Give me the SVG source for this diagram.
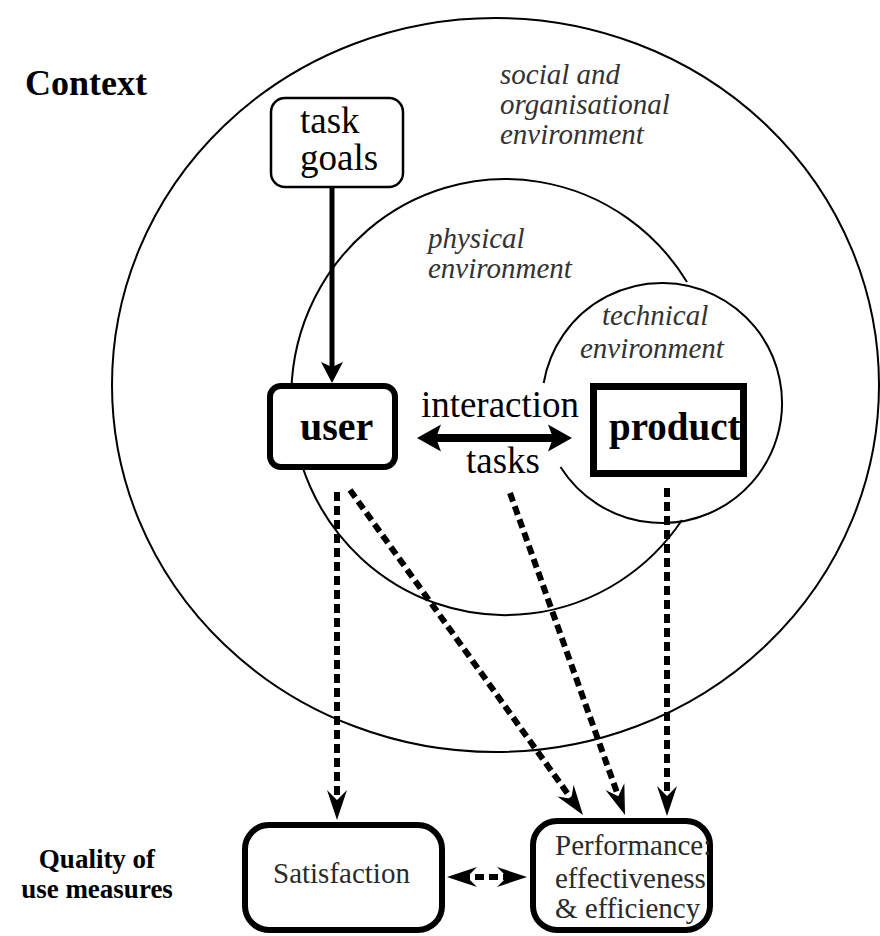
<svg xmlns="http://www.w3.org/2000/svg" width="880" height="936" viewBox="0 0 880 936">
  <style>
    .ring { fill: none; stroke: #000; stroke-width: 2; }
    .env { font-family: "Liberation Serif", "Times New Roman", serif; font-style: italic; font-size: 29px; fill: #333; }
    .big { font-family: "Liberation Serif", "Times New Roman", serif; font-size: 37px; fill: #000; }
    .bold { font-family: "Liberation Serif", "Times New Roman", serif; font-weight: bold; fill: #000; }
    .meas { font-family: "Liberation Serif", "Times New Roman", serif; font-size: 29px; fill: #2a2a2a; }
    .box { fill: #fff; stroke: #000; }
    .dash { fill: none; stroke: #000; stroke-width: 6; stroke-dasharray: 9 5; }
  </style>
  <defs>
    <marker id="headSolid" markerUnits="userSpaceOnUse" viewBox="-12 -14 26 28" markerWidth="26" markerHeight="28" refX="0" refY="0" orient="auto">
      <path d="M12,0 L-9,-11 L-4,0 L-9,11 Z" fill="#000" stroke="none"/>
    </marker>
    <marker id="headWide" markerUnits="userSpaceOnUse" viewBox="-14 -16 28 32" markerWidth="28" markerHeight="32" refX="0" refY="0" orient="auto-start-reverse">
      <path d="M12,0 L-12,-13.5 L-7,0 L-12,13.5 Z" fill="#000" stroke="none"/>
    </marker>
    <marker id="headDash" markerUnits="userSpaceOnUse" viewBox="-18 -12 34 24" markerWidth="34" markerHeight="24" refX="0" refY="0" orient="auto-start-reverse">
      <path d="M14,0 L-16,-10 L-6,0 L-16,10 Z" fill="#000" stroke="none"/>
    </marker>
  </defs>

  <rect x="0" y="0" width="880" height="936" fill="#fff"/>

  <g id="context-label">
    <text class="bold" x="25" y="95" font-size="36">Context</text>
  </g>
  <g id="quality-label">
    <text class="bold" x="97" y="868" font-size="27" text-anchor="middle">Quality of</text>
    <text class="bold" x="97" y="898" font-size="27" text-anchor="middle">use measures</text>
  </g>

  <g id="ring-social">
    <ellipse class="ring" cx="495.5" cy="385" rx="383.5" ry="367"/>
    <text class="env" x="500" y="84">social and</text>
    <text class="env" x="500" y="114">organisational</text>
    <text class="env" x="500" y="144">environment</text>
  </g>

  <g id="ring-physical">
    <path class="ring" d="M687,282 A214,218 0 1 0 682,520"/>
    <text class="env" x="428" y="248">physical</text>
    <text class="env" x="428" y="278">environment</text>
  </g>

  <g id="ring-technical">
    <path class="ring" d="M543.7,383 A120,120 0 1 1 560.5,467"/>
    <text class="env" x="602" y="325">technical</text>
    <text class="env" x="580" y="358">environment</text>
  </g>

  <g id="task-goals">
    <rect class="box" x="271" y="98" width="132" height="89" rx="14" stroke-width="2.5"/>
    <text class="big" x="300" y="133">task</text>
    <text class="big" x="300" y="170">goals</text>
  </g>

  <g id="user">
    <rect class="box" x="270" y="386" width="125" height="81" rx="11" stroke-width="6"/>
    <text class="bold" x="300" y="440" font-size="40">user</text>
  </g>

  <g id="product">
    <rect x="593.5" y="386.5" width="150" height="87" fill="#fff"/>
    <text class="bold" x="609" y="440" font-size="39">product</text>
    <rect x="593.5" y="386.5" width="150" height="87" fill="none" stroke="#000" stroke-width="7"/>
  </g>

  <g id="satisfaction">
    <rect class="box" x="245" y="825" width="197" height="105" rx="24" stroke-width="6"/>
    <text class="meas" x="273" y="883">Satisfaction</text>
  </g>

  <g id="performance">
    <rect class="box" x="533" y="821" width="177" height="109" rx="24" stroke-width="6"/>
    <text class="meas" x="555" y="855">Performance:</text>
    <text class="meas" x="555" y="888">effectiveness</text>
    <text class="meas" x="555" y="918">&amp; efficiency</text>
  </g>

  <g id="connectors">
    <line x1="332" y1="188" x2="332" y2="371" stroke="#000" stroke-width="5" marker-end="url(#headSolid)"/>
    <line x1="429" y1="438" x2="560" y2="438" stroke="#000" stroke-width="8" marker-start="url(#headWide)" marker-end="url(#headWide)"/>
    <text class="big" x="500" y="417" text-anchor="middle">interaction</text>
    <text class="big" x="503" y="473" text-anchor="middle">tasks</text>
    <line class="dash" x1="337" y1="492" x2="337" y2="806" marker-end="url(#headDash)"/>
    <line class="dash" x1="350" y1="490" x2="574.8" y2="803.6" marker-end="url(#headDash)"/>
    <line class="dash" x1="510" y1="493" x2="620.3" y2="801.8" marker-end="url(#headDash)"/>
    <line class="dash" x1="667" y1="488" x2="667" y2="802" marker-end="url(#headDash)"/>
    <line class="dash" x1="461" y1="877" x2="513" y2="877" marker-start="url(#headDash)" marker-end="url(#headDash)"/>
  </g>
</svg>
